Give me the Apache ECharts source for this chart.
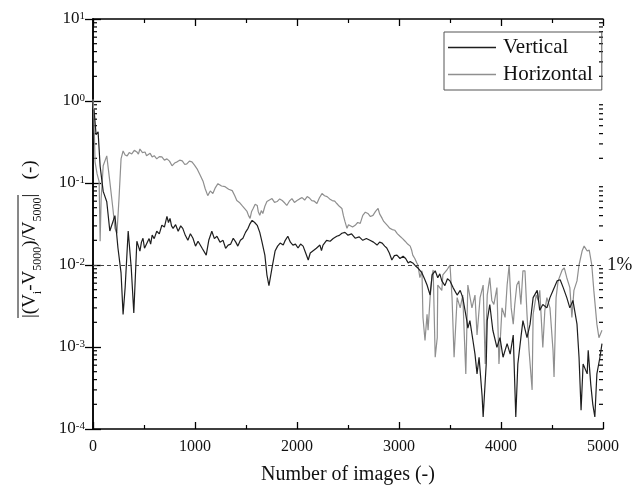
<!DOCTYPE html>
<html>
<head>
<meta charset="utf-8">
<script src="https://cdn.jsdelivr.net/npm/echarts@6/dist/echarts.min.js"></script>
<style>
html,body{margin:0;padding:0;background:#fff;}
#chart{width:637px;height:490px;}
</style>
</head>
<body>
<div id="chart"></div>
<script>
// ---- data: [number of images, relative deviation] ----
const seriesNames = ['Vertical', 'Horizontal'];

const verticalData = [[10,0.79],[30,0.39],[50,0.42],[70,0.16],[100,0.079],[135,0.059],[165,0.026],[215,0.040],[245,0.016],[275,0.0080],[295,0.0025],[315,0.0053],[345,0.026],[375,0.0092],[400,0.0026],
[430,0.0195],[445,0.017],[460,0.0148],[475,0.019],[490,0.0212],[505,0.016],[520,0.0175],[550,0.021],[565,0.018],[580,0.0231],[600,0.021],[625,0.0258],[650,0.024],[675,0.0305],[700,0.029],[725,0.0391],[740,0.033],[755,0.037],[770,0.030],[785,0.028],[810,0.031],[835,0.0258],[860,0.030],[880,0.028],[905,0.023],[930,0.020],[955,0.024],[980,0.0212],[1005,0.017],[1030,0.0195],[1070,0.016],[1110,0.0132],[1135,0.020],[1165,0.0258],[1190,0.021],[1215,0.0224],[1245,0.019],[1275,0.020],[1300,0.016],[1325,0.0175],[1350,0.018],[1375,0.0212],[1400,0.019],[1420,0.017],[1445,0.020],[1470,0.0212],[1495,0.025],[1520,0.028],[1540,0.032],[1560,0.035],[1585,0.033],[1610,0.0305],[1635,0.025],[1655,0.0195],[1685,0.0132],[1705,0.0076],[1725,0.0056],[1755,0.0092],[1785,0.0148],[1810,0.017],[1835,0.0185],[1865,0.0175],[1885,0.020],[1910,0.0224],[1935,0.019],[1960,0.0175],[1985,0.018],[2010,0.0161],[2035,0.018],[2060,0.017],[2085,0.014],[2110,0.0115],[2130,0.014],[2155,0.0148],[2190,0.016],[2225,0.0175],[2240,0.015],[2255,0.0175],[2290,0.020],[2325,0.0195],[2355,0.021],[2390,0.0224],[2415,0.023],[2440,0.0244],[2470,0.025],[2500,0.0231],[2535,0.024],[2570,0.0212],[2610,0.022],[2645,0.020],[2680,0.021],[2715,0.020],[2750,0.019],[2785,0.0175],[2810,0.019],[2835,0.0185],[2860,0.017],[2880,0.0161],[2905,0.014],[2930,0.0115],[2955,0.013],[2980,0.0132],[3010,0.012],[3040,0.0128],[3065,0.012],[3090,0.0106],[3110,0.011],[3135,0.0106],[3160,0.0098],[3185,0.0092],
[3225,0.0080],[3250,0.0068],[3275,0.0057],[3305,0.0043],[3325,0.0076],[3355,0.0085],[3380,0.0070],[3400,0.0078],[3420,0.0064],[3450,0.0056],[3475,0.0068],[3500,0.0064],[3530,0.0053],[3570,0.0043],[3600,0.0049],[3625,0.0040],[3665,0.0021],[3675,0.0017],[3695,0.0021],[3725,0.0012],[3745,0.00082],[3765,0.00047],[3785,0.00075],[3815,0.00025],[3825,0.00014],[3855,0.00062],[3865,0.0021],[3890,0.0033],[3920,0.0016],[3960,0.00099],[3990,0.0013],[4020,0.00075],[4060,0.0011],[4090,0.00082],[4120,0.0014],[4145,0.00014],[4165,0.00062],[4195,0.0013],[4215,0.0021],[4255,0.0013],[4285,0.0019],[4315,0.0040],[4355,0.0049],[4380,0.0028],[4410,0.0033],[4450,0.0030],[4480,0.0040],[4510,0.0049],[4550,0.0064],[4580,0.0066],[4610,0.0053],[4645,0.0040],[4675,0.0030],[4705,0.0037],[4745,0.0019],[4765,0.00075],[4785,0.00017],[4805,0.00062],[4845,0.00047],[4855,0.00091],[4880,0.00035],[4900,0.00020],[4920,0.00014],[4940,0.00047],[4970,0.00075],[4990,0.0011]];

const horizontalData = [[0,1.05],[10,0.60],[20,0.181],[40,0.129],[60,0.104],[70,0.0195],[80,0.0646],[100,0.162],[135,0.214],[165,0.104],[195,0.0489],[215,0.028],[235,0.0244],[255,0.0646],[275,0.197],
[295,0.246],[315,0.22],[335,0.214],[355,0.235],[380,0.226],[405,0.25],[430,0.239],[445,0.225],[460,0.260],[485,0.235],[510,0.239],[525,0.215],[540,0.226],[560,0.23],[580,0.208],[600,0.215],[625,0.197],[650,0.21],[675,0.208],[700,0.19],[725,0.197],[750,0.185],[775,0.162],[800,0.175],[825,0.181],[850,0.19],[875,0.186],[900,0.168],[920,0.171],[945,0.185],[970,0.181],[995,0.165],[1020,0.149],[1050,0.125],[1080,0.104],[1100,0.085],[1125,0.0702],[1150,0.080],[1175,0.0743],[1200,0.088],[1225,0.0982],[1260,0.092],[1295,0.0902],[1330,0.084],[1365,0.0807],[1390,0.070],[1410,0.0611],[1435,0.058],[1460,0.0532],[1485,0.049],[1510,0.0450],[1525,0.040],[1540,0.037],[1555,0.045],[1570,0.0489],[1590,0.055],[1610,0.0532],[1620,0.045],[1635,0.0403],[1650,0.046],[1665,0.0425],[1685,0.052],[1705,0.0594],[1730,0.062],[1755,0.0646],[1780,0.058],[1805,0.0594],[1830,0.064],[1855,0.0611],[1880,0.057],[1900,0.0532],[1925,0.060],[1950,0.0646],[1975,0.058],[2000,0.0611],[2025,0.064],[2050,0.0664],[2075,0.062],[2100,0.0683],[2125,0.065],[2145,0.0611],[2170,0.060],[2195,0.0562],[2220,0.066],[2245,0.0743],[2270,0.070],[2295,0.0683],[2320,0.064],[2345,0.0611],[2370,0.060],[2390,0.0562],[2415,0.052],[2440,0.0489],[2455,0.040],[2470,0.034],[2490,0.028],[2505,0.031],[2520,0.0322],[2545,0.029],[2570,0.0305],[2595,0.033],[2620,0.0322],[2645,0.0403],[2670,0.044],[2695,0.0425],[2720,0.039],[2745,0.0403],[2770,0.045],[2795,0.0489],[2810,0.042],[2835,0.037],[2850,0.034],[2865,0.0322],[2890,0.030],[2910,0.028],[2935,0.027],[2960,0.0265],[2985,0.024],[3010,0.0224],[3035,0.021],[3060,0.0195],[3085,0.018],[3110,0.017],[3125,0.015],[3135,0.0132],[3155,0.012],[3175,0.0106],
[3185,0.010],[3205,0.0070],[3225,0.0085],[3235,0.00229],[3255,0.0012],[3275,0.0025],[3285,0.0016],[3305,0.0040],[3325,0.0076],[3335,0.0087],[3355,0.00075],[3375,0.0013],[3380,0.0057],[3420,0.0049],[3430,0.0076],[3470,0.0087],[3500,0.010],[3520,0.0040],[3540,0.00075],[3570,0.0040],[3600,0.0030],[3625,0.0043],[3655,0.00047],[3675,0.0057],[3715,0.0030],[3745,0.0043],[3765,0.0014],[3795,0.0040],[3825,0.0057],[3845,0.00062],[3865,0.0043],[3890,0.0070],[3910,0.0037],[3930,0.0033],[3960,0.0053],[3980,0.00062],[4010,0.0030],[4040,0.0023],[4060,0.0057],[4080,0.010],[4100,0.0030],[4120,0.0019],[4135,0.0033],[4155,0.0057],[4175,0.0064],[4195,0.0033],[4215,0.0085],[4235,0.0085],[4255,0.0025],[4275,0.00091],[4305,0.0003],[4315,0.0025],[4345,0.0043],[4365,0.0037],[4380,0.0049],[4410,0.00099],[4430,0.0028],[4450,0.0040],[4480,0.0030],[4510,0.00091],[4520,0.00043],[4540,0.0040],[4560,0.0064],[4600,0.0087],[4620,0.0092],[4645,0.0070],[4675,0.0053],[4695,0.0023],[4715,0.0049],[4745,0.0064],[4765,0.010],[4795,0.0148],[4815,0.017],[4845,0.0148],[4865,0.0152],[4890,0.010],[4910,0.0049],[4940,0.0019],[4960,0.0013],[4990,0.0016]];

const thresholdValue = 0.01;
const thresholdLabel = '1%';
const yDecades = [-4, -3, -2, -1, 0, 1];
const yMinorMultipliers = [2, 3, 4, 5, 6, 7, 8, 9];

// ---- build ----
const minorTickData = [];
yDecades.slice(0, -1).forEach(d => yMinorMultipliers.forEach(m => minorTickData.push([0, m * Math.pow(10, d)])));

const SERIF = '"Liberation Serif", "DejaVu Serif", serif';
const chart = echarts.init(document.getElementById('chart'), null, {renderer: 'canvas'});

const axisLineStyle = {color: '#000', width: 1.5};

chart.setOption({
  animation: false,
  backgroundColor: '#fff',
  grid: {left: 93, right: 34, top: 19, bottom: 57, containLabel: false},
  legend: {
    data: seriesNames,
    orient: 'vertical',
    left: 444, top: 32,
    icon: 'rect',
    itemWidth: 48, itemHeight: 1.5, itemGap: 6,
    padding: [5, 9, 5, 4],
    borderColor: '#555', borderWidth: 1,
    textStyle: {fontFamily: SERIF, fontSize: 21, color: '#111', padding: [0, 0, 0, 2]}
  },
  xAxis: [{
    type: 'value', min: 0, max: 5000, interval: 1000,
    name: 'Number of images (-)', nameLocation: 'middle', nameGap: 36,
    nameTextStyle: {fontFamily: SERIF, fontSize: 20, color: '#111'},
    axisLine: {show: true, lineStyle: axisLineStyle},
    axisTick: {show: true, inside: true, length: 7, lineStyle: {color: '#000', width: 1.3}},
    minorTick: {show: true, splitNumber: 2, length: 4, lineStyle: {color: '#000', width: 1.2}},
    axisLabel: {fontFamily: SERIF, fontSize: 16, color: '#111', margin: 10, formatter: v => String(v)},
    splitLine: {show: false}
  }, {
    type: 'value', min: 0, max: 5000, interval: 1000, position: 'top',
    axisLine: {show: true, lineStyle: axisLineStyle},
    axisTick: {show: true, inside: true, length: 7, lineStyle: {color: '#000', width: 1.3}},
    minorTick: {show: true, splitNumber: 2, length: 4, lineStyle: {color: '#000', width: 1.2}},
    axisLabel: {show: false},
    splitLine: {show: false}
  }],
  yAxis: [{
    type: 'log', logBase: 10, min: 1e-4, max: 10,
    axisLine: {show: true, lineStyle: axisLineStyle},
    axisTick: {show: true, inside: true, length: 8, lineStyle: {color: '#000', width: 1.3}},
    axisLabel: {
      fontFamily: SERIF, fontSize: 17, color: '#111', margin: 8,
      formatter: v => '10{sup|' + Math.round(Math.log10(v)) + '}',
      rich: {sup: {fontFamily: SERIF, fontSize: 11, color: '#111', verticalAlign: 'top', lineHeight: 12, padding: [0, 0, 8, 0]}}
    },
    splitLine: {show: false}
  }, {
    type: 'log', logBase: 10, min: 1e-4, max: 10, position: 'right',
    axisLine: {show: true, lineStyle: axisLineStyle},
    axisTick: {show: true, inside: true, length: 8, lineStyle: {color: '#000', width: 1.3}},
    axisLabel: {show: false},
    splitLine: {show: false}
  }],
  series: [{
    name: 'Vertical', type: 'line', xAxisIndex: 0, yAxisIndex: 0,
    data: verticalData,
    symbol: 'none', showSymbol: false,
    lineStyle: {color: '#1e1e1e', width: 1.2},
    itemStyle: {color: '#1e1e1e'},
    z: 3,
    markLine: {
      silent: true, symbol: ['none', 'none'],
      data: [{yAxis: thresholdValue}],
      lineStyle: {type: [4, 3], color: '#444', width: 1},
      label: {show: true, position: 'end', formatter: thresholdLabel, distance: 4,
        fontFamily: SERIF, fontSize: 19, color: '#111'}
    }
  }, {
    name: 'Horizontal', type: 'line', xAxisIndex: 0, yAxisIndex: 0,
    data: horizontalData,
    symbol: 'none', showSymbol: false,
    lineStyle: {color: '#8f8f8f', width: 1.2},
    itemStyle: {color: '#8f8f8f'},
    z: 2
  }, {
    name: 'minorTicks', type: 'custom', xAxisIndex: 0, yAxisIndex: 0,
    data: minorTickData, silent: true, clip: false,
    renderItem: (params, api) => {
      const v = api.value(1);
      const l = api.coord([0, v]);
      const r = api.coord([5000, v]);
      const st = {stroke: '#000', lineWidth: 1.2};
      return {type: 'group', children: [
        {type: 'line', shape: {x1: l[0], y1: l[1], x2: l[0] + 4, y2: l[1]}, style: st},
        {type: 'line', shape: {x1: r[0] - 4, y1: r[1], x2: r[0], y2: r[1]}, style: st}
      ]};
    }
  }],
  graphic: [{
    type: 'group', x: 30, y: 234, rotation: Math.PI / 2,
    children: [{
      type: 'text', x: -84, y: 0,
      style: {
        text: '{m||(V}{s|i}{m|-V}{s|5000}{m|)/V}{s|5000}{m||   (-)}',
        align: 'left', verticalAlign: 'middle',
        rich: {
          m: {fontFamily: SERIF, fontSize: 19, fill: '#111', color: '#111', lineHeight: 28, verticalAlign: 'middle'},
          s: {fontFamily: SERIF, fontSize: 12, fill: '#111', color: '#111', lineHeight: 12, verticalAlign: 'bottom'}
        }
      }
    }, {
      type: 'line', shape: {x1: -84, y1: -12, x2: 39, y2: -12},
      style: {stroke: '#111', lineWidth: 1}
    }]
  }]
});
</script>
</body>
</html>
